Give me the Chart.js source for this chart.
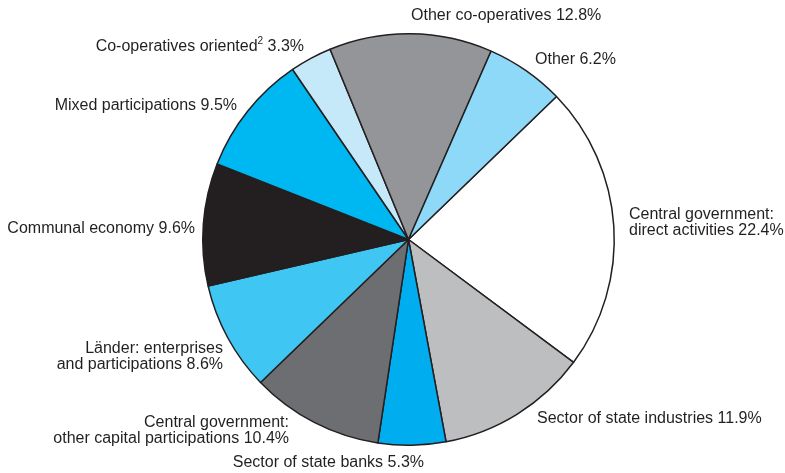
<!DOCTYPE html>
<html>
<head>
<meta charset="utf-8">
<script src="https://cdn.jsdelivr.net/npm/chart.js@4"></script>
<style>
  html, body { margin: 0; padding: 0; background: #fff; }
  #wrap { width: 785px; height: 473px; }
</style>
</head>
<body>
<div id="wrap"><canvas id="pie"></canvas></div>
<script>
// shares of each sector, clockwise from the white slice
var sectors = [
  "Central government: direct activities",
  "Sector of state industries",
  "Sector of state banks",
  "Central government: other capital participations",
  "Länder: enterprises and participations",
  "Communal economy",
  "Mixed participations",
  "Co-operatives oriented",
  "Other co-operatives",
  "Other"
];
var shares = [22.4, 11.9, 5.3, 10.4, 8.6, 9.6, 9.5, 3.3, 12.8, 6.2];
var sliceColors = [
  "#ffffff", "#bcbec0", "#00aeef", "#6d6e71", "#40c6f2",
  "#231f20", "#00b8f1", "#c6e9f9", "#939598", "#8ed8f8"
];

// label text lines per slice ("^2" marks a superscript)
var labelLines = [
  ["Central government:", "direct activities 22.4%"],
  ["Sector of state industries 11.9%"],
  ["Sector of state banks 5.3%"],
  ["Central government:", "other capital participations 10.4%"],
  ["Länder: enterprises", "and participations 8.6%"],
  ["Communal economy 9.6%"],
  ["Mixed participations 9.5%"],
  ["Co-operatives oriented^2 3.3%"],
  ["Other co-operatives 12.8%"],
  ["Other 6.2%"]
];

// where each label sits: anchor x, first line middle y, alignment
var labelPos = [
  { x: 629, y: 215, align: "left" },
  { x: 537, y: 419, align: "left" },
  { x: 424, y: 463, align: "right" },
  { x: 289, y: 423, align: "right" },
  { x: 223, y: 349, align: "right" },
  { x: 195, y: 229, align: "right" },
  { x: 237, y: 106, align: "right" },
  { x: 304, y: 47, align: "right" },
  { x: 411, y: 16, align: "left" },
  { x: 535, y: 60, align: "left" }
];

var FONT = '16px "Liberation Sans", Arial, sans-serif';
var SUP_FONT = '10px "Liberation Sans", Arial, sans-serif';
var LINE_H = 15.5;

function drawLine(ctx, text, x, y, align) {
  var parts = text.split("^2");
  ctx.font = FONT;
  var w0 = ctx.measureText(parts[0]).width;
  var w2 = parts.length > 1 ? ctx.measureText(parts[1]).width : 0;
  ctx.font = SUP_FONT;
  var ws = parts.length > 1 ? ctx.measureText("2").width : 0;
  var total = w0 + ws + w2;
  var left = align === "right" ? x - total : x;
  ctx.textAlign = "left";
  ctx.font = FONT;
  ctx.fillText(parts[0], left, y);
  if (parts.length > 1) {
    ctx.font = SUP_FONT;
    ctx.fillText("2", left + w0, y - 6);
    ctx.font = FONT;
    ctx.fillText(parts[1], left + w0 + ws, y);
  }
}

var outsideLabels = {
  id: "outsideLabels",
  afterDraw: function (chart) {
    var ctx = chart.ctx;
    ctx.save();
    ctx.fillStyle = "#231f20";
    ctx.textBaseline = "middle";
    labelLines.forEach(function (lines, i) {
      var p = labelPos[i];
      lines.forEach(function (line, j) {
        drawLine(ctx, line, p.x, p.y + j * LINE_H, p.align);
      });
    });
    ctx.restore();
  }
};

new Chart(document.getElementById("pie"), {
  type: "pie",
  data: {
    labels: sectors,
    datasets: [{
      data: shares,
      backgroundColor: sliceColors,
      borderColor: "#231f20",
      borderWidth: 1.5,
      hoverOffset: 0
    }]
  },
  options: {
    responsive: true,
    maintainAspectRatio: false,
    animation: false,
    rotation: 46,
    layout: { padding: { top: 33, bottom: 27, left: 202, right: 170 } },
    plugins: {
      legend: { display: false },
      tooltip: { enabled: false }
    }
  },
  plugins: [outsideLabels]
});
</script>
</body>
</html>
